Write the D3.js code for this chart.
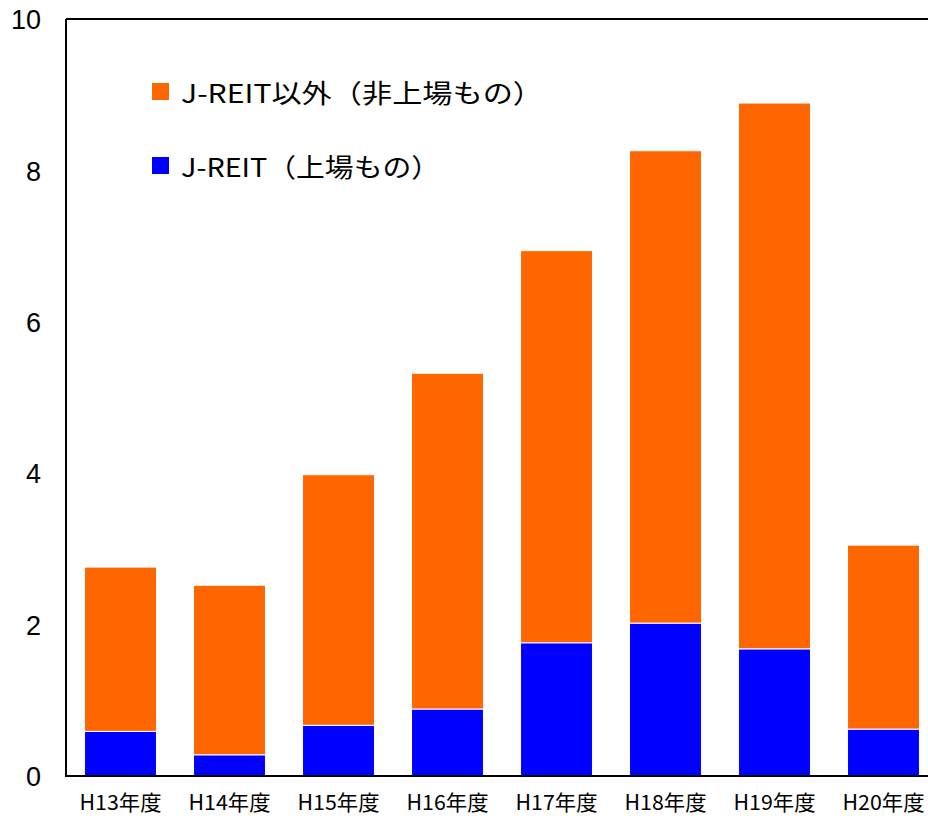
<!DOCTYPE html>
<html>
<head>
<meta charset="utf-8">
<script src="https://cdn.jsdelivr.net/npm/d3@7"></script>
<style>
  html, body { margin: 0; padding: 0; background: #fff; }
  svg { display: block; }
</style>
</head>
<body>
<svg id="chart" width="928" height="816"></svg>
<script>
// Fiscal years
const categories = ["H13年度", "H14年度", "H15年度", "H16年度", "H17年度", "H18年度", "H19年度", "H20年度"];
// Listed J-REIT portion
const listed = [0.59, 0.28, 0.67, 0.885, 1.76, 2.02, 1.68, 0.62];
// Non-listed portion (other than J-REIT)
const unlisted = [2.17, 2.24, 3.31, 4.435, 5.18, 6.24, 7.21, 2.43];
const yTicks = [0, 2, 4, 6, 8, 10];
const seriesNames = ["J-REIT以外（非上場もの）", "J-REIT（上場もの）"];
const colors = { listed: "#0000ff", unlisted: "#ff6600" };

const svg = d3.select("#chart");
const plotLeft = 66, plotRight = 938, plotTop = 19, plotBottom = 776;

const x = d3.scaleBand().domain(categories).range([plotLeft, plotRight]).paddingInner(0.34).paddingOuter(0.17);
const y = d3.scaleLinear().domain([0, 10]).range([plotBottom, plotTop]);

const rows = categories.map((c, i) => ({ cat: c, listed: listed[i], unlisted: unlisted[i] }));
const stacked = d3.stack().keys(["listed", "unlisted"])(rows);

svg.append("g")
  .selectAll("g")
  .data(stacked)
  .join("g")
  .attr("fill", d => colors[d.key])
  .selectAll("rect")
  .data(d => d)
  .join("rect")
  .attr("x", d => x(d.data.cat))
  .attr("width", x.bandwidth())
  .attr("y", d => y(d[1]))
  .attr("height", d => y(d[0]) - y(d[1]))
  .attr("stroke", "#ffffff")
  .attr("stroke-width", 1);

// Frame lines: left, top and baseline
svg.append("path")
  .attr("d", `M${plotLeft},${plotTop}H${928}M${plotLeft},${plotTop}V${plotBottom}H${928}`)
  .attr("fill", "none")
  .attr("stroke", "#000")
  .attr("stroke-width", 2);

// Y axis labels
const yAxis = d3.axisLeft(y).tickValues(yTicks).tickSize(0).tickPadding(25).tickFormat(d3.format("d"));
const ya = svg.append("g").attr("transform", `translate(${plotLeft},0)`).call(yAxis);
ya.select(".domain").remove();
ya.selectAll("text")
  .attr("font-family", "'Liberation Sans', Arial, sans-serif")
  .attr("font-size", 27)
  .attr("dy", "0.36em")
  .attr("fill", "#000");

// X axis labels (wide, slightly stretched lettering)
const xAxis = d3.axisBottom(x).tickSize(0).tickPadding(19);
const xa = svg.append("g").attr("transform", `translate(0,${plotBottom})`).call(xAxis);
xa.select(".domain").remove();
xa.selectAll("text")
  .attr("font-family", "'Noto Sans CJK JP', sans-serif")
  .attr("font-size", 21)
  .attr("textLength", 82)
  .attr("lengthAdjust", "spacingAndGlyphs")
  .attr("fill", "#000");

// Legend
const legend = svg.append("g");
const legendItems = [
  { name: seriesNames[0], color: colors.unlisted, y: 91.5, len: 362 },
  { name: seriesNames[1], color: colors.listed, y: 165.5, len: 259 }
];
legendItems.forEach(it => {
  legend.append("rect")
    .attr("x", 152).attr("y", it.y - 8.5)
    .attr("width", 17).attr("height", 17)
    .attr("fill", it.color);
  legend.append("text")
    .attr("x", 181).attr("y", it.y)
    .attr("dominant-baseline", "central")
    .attr("font-family", "'Noto Sans CJK JP', sans-serif")
    .attr("font-size", 26)
    .attr("textLength", it.len)
    .attr("lengthAdjust", "spacingAndGlyphs")
    .attr("fill", "#000")
    .text(it.name);
});
</script>
</body>
</html>
